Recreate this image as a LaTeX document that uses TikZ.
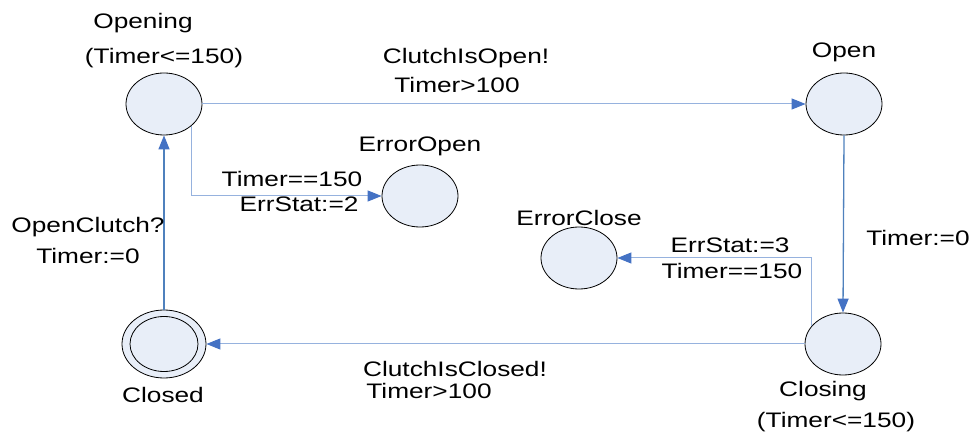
\documentclass[tikz,border=0pt]{standalone}
\usepackage{fontspec}
\setmainfont{Liberation Sans}[FakeStretch=1.25]
\usetikzlibrary{shapes.geometric,arrows.meta}

\definecolor{statefill}{RGB}{232,238,248}
\definecolor{edgelight}{RGB}{150,178,222}
\definecolor{edgedark}{RGB}{79,129,189}
\definecolor{tipblue}{RGB}{68,114,196}

\tikzset{
	state/.style={ellipse, draw=black, line width=0.8pt, fill=statefill, minimum width=76pt, minimum height=62pt, inner sep=0pt},
	lbl/.style={anchor=base, inner sep=0pt, font=\fontsize{21}{25}\selectfont},
	edge/.style={draw=edgelight, line width=1pt, -{Triangle[length=14pt,width=11pt,color=tipblue,fill=tipblue]}},
	edgedk/.style={edge, draw=edgedark, line width=1.3pt}
}

\begin{document}
\begin{tikzpicture}[x=1pt, y=-1pt]
	\useasboundingbox (0,0) rectangle (975,435);
	%locations of states
	\node[state] (opening) at (164,104) {};
	\node[state] (open) at (844,104) {};
	\node[state] (erroropen) at (420,196) {};
	\node[state] (errorclose) at (579,258) {};
	\node[state] (closing) at (843,344) {};
	\node[state, minimum width=84pt, minimum height=68pt] (closed) at (164,344) {};
	\node[ellipse, draw=black, line width=0.8pt, minimum width=68pt, minimum height=55pt, inner sep=0pt] (closedin) at (closed) {};

	%state names and invariants
	\node[lbl] (openingname) at (143,29) {Opening};
	\node[lbl] (openinginv) at (164,64) {(Timer<=150)};
	\node[lbl] (openname) at (844,58) {Open};
	\node[lbl] (erroropenname) at (420,152) {ErrorOpen};
	\node[lbl] (errorclosename) at (579,226) {ErrorClose};
	\node[lbl] (closingname) at (823,397) {Closing};
	\node[lbl] (closinginv) at (836,428) {(Timer<=150)};
	\node[lbl] (closedname) at (163,403) {Closed};

	%transitions
	\draw[edge] (opening.east) -- (open.west);
	\draw[edge] (opening.south east) |- (erroropen.west);
	\draw[edgedk] (closed.north) -- (opening.south);
	\draw[edgedk] (open.south) -- (closing.north);
	\draw[edge] (closing.150) |- (errorclose.east);
	\draw[edge] (closing.west) -- (closed.east);

	%guards and updates
	\node[lbl] (openinggrd) at (466,64) {ClutchIsOpen!};
	\node[lbl] (openingtmr) at (457,93) {Timer>100};
	\node[lbl] (erroropengrd) at (292,187) {Timer==150};
	\node[lbl] (erroropenupd) at (299,212) {ErrStat:=2};
	\node[lbl] (closedsync) at (88,233) {OpenClutch?};
	\node[lbl] (closedupd) at (88,264) {Timer:=0};
	\node[lbl] (openupd) at (918,246) {Timer:=0};
	\node[lbl] (errorcloseupd) at (730,253) {ErrStat:=3};
	\node[lbl] (errorclosegrd) at (732,279) {Timer==150};
	\node[lbl] (closingsync) at (455,377) {ClutchIsClosed!};
	\node[lbl] (closingtmr) at (429,399) {Timer>100};
\end{tikzpicture}
\end{document}
